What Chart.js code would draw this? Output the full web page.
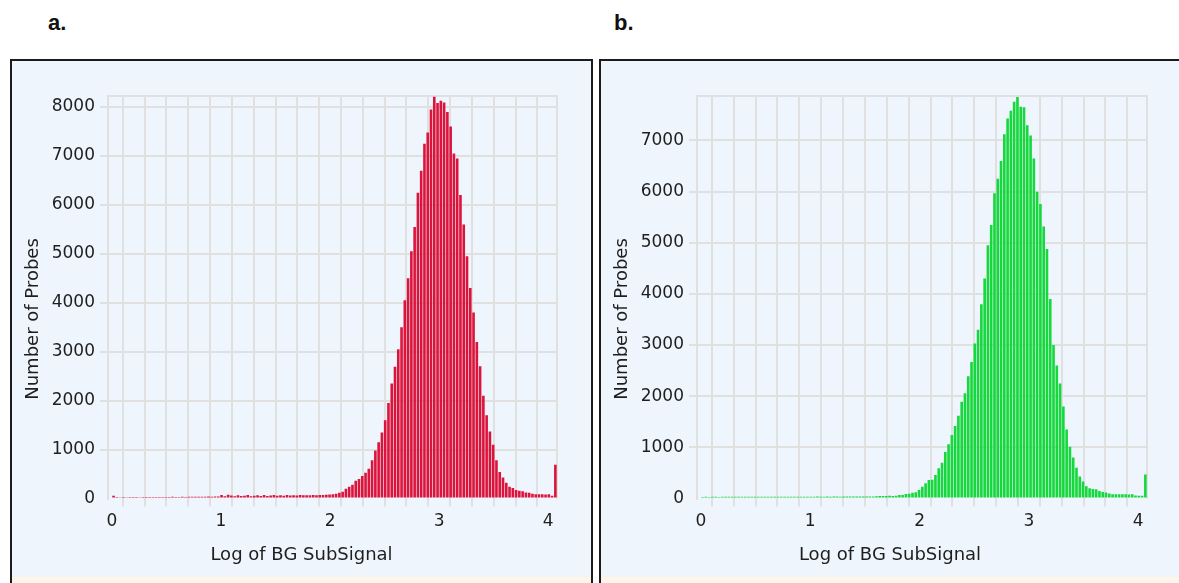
<!DOCTYPE html>
<html>
<head>
<meta charset="utf-8">
<script src="https://cdn.jsdelivr.net/npm/chart.js@4.4.1/dist/chart.umd.min.js"></script>
<style>
  body { margin: 0; background: #fff; width: 1179px; height: 583px; overflow: hidden; position: relative; font-family: Arial, "Liberation Sans", sans-serif; }
  .lbl { position: absolute; top: 12px; font-weight: bold; font-size: 22px; line-height: 1; color: #111; }
  .panel { position: absolute; top: 59px; height: 530px; border: 2px solid #1b1b1b; background: #eef5fd; }
  .panel .foot { position: absolute; left: 0; right: 0; top: 516px; bottom: 0; background: #fdf4ea; }
  .panel canvas { position: absolute; left: 0; top: 0; }
</style>
</head>
<body>
<div class="lbl" style="left:48px">a.</div>
<div class="lbl" style="left:614px">b.</div>

<div class="panel" style="left:10px; width:579px">
  <canvas id="chartA" width="579" height="516"></canvas>
  <div class="foot"></div>
</div>
<div class="panel" style="left:599px; width:580px">
  <canvas id="chartB" width="578" height="516"></canvas>
  <div class="foot"></div>
</div>

<script>
// histogram bins: 0.03 wide, from 0 up to 4.08 (last bin holds the overflow)
const binWidth = 0.03;
const binCount = 136;
const binCenters = Array.from({length: binCount}, (_, i) => +(binWidth * i + binWidth / 2).toFixed(3));

// a. red channel
const redCounts = [
  55, 30, 28, 30, 27, 30, 29, 31, 28, 30,
  32, 29, 31, 30, 33, 30, 32, 31, 34, 32,
  33, 35, 33, 36, 34, 37, 35, 38, 36, 39,
  38, 40, 42, 70, 48, 75, 62, 45, 68, 50,
  58, 72, 47, 55, 66, 50, 74, 52, 60, 70,
  55, 65, 58, 72, 60, 66, 62, 70, 64, 68,
  66, 70, 68, 72, 74, 78, 82, 86, 95, 120,
  140, 200, 240, 280, 365, 400, 460, 525, 610, 780,
  980, 1150, 1350, 1600, 1950, 2350, 2690, 3050, 3500, 4050,
  4500, 5050, 5550, 6250, 6700, 7250, 7480, 7950, 8210, 8080,
  8130, 8090, 7900, 7600, 7050, 6950, 6200, 5600, 4950, 4300,
  3800, 3200, 2700, 2100, 1700, 1370, 1100, 780, 540, 430,
  320, 240, 215, 175, 160, 150, 125, 115, 95, 88,
  85, 86, 84, 86, 55, 690
];

// b. green channel
const greenCounts = [
  30, 32, 31, 33, 32, 31, 33, 32, 34, 33,
  32, 34, 33, 32, 34, 33, 35, 33, 34, 32,
  34, 33, 35, 34, 33, 35, 34, 36, 35, 34,
  36, 35, 34, 36, 35, 37, 36, 35, 37, 36,
  38, 37, 36, 38, 37, 39, 38, 40, 39, 38,
  40, 41, 40, 42, 48, 50, 48, 52, 50, 55,
  66, 70, 88, 92, 113, 120, 165, 230, 300, 360,
  365, 460, 590, 700, 910, 1060, 1240, 1420, 1620, 1890,
  2060, 2390, 2670, 3030, 3300, 3800, 4300, 4950, 5350, 5970,
  6250, 6600, 7120, 7430, 7580, 7760, 7850, 7660, 7650, 7300,
  7100, 6650, 6000, 5760, 5320, 4880, 3900, 3000, 2600, 2250,
  1800, 1350, 1010, 800, 600, 430, 330, 240, 200, 185,
  180, 146, 125, 118, 100, 84, 82, 83, 81, 82,
  80, 82, 60, 55, 52, 470
];

const xGrid = [0, 0.2, 0.4, 0.6, 0.8, 1, 1.2, 1.4, 1.6, 1.8, 2, 2.2, 2.4, 2.6, 2.8, 3, 3.2, 3.4, 3.6, 3.8, 4];
const redYTicks = [0, 1000, 2000, 3000, 4000, 5000, 6000, 7000, 8000];
const greenYTicks = [0, 1000, 2000, 3000, 4000, 5000, 6000, 7000];

const xTitle = "Log of BG SubSignal";
const yTitle = "Number of Probes";

const gridColor = "#e0e0e0";
const textColor = "#1e1e1e";
const tickFont = { family: "DejaVu Sans", size: 17 };

// top/right frame of the plot + axis titles centred on the panel
const frame = {
  id: "frame",
  beforeDatasetsDraw(chart) {
    const { ctx, chartArea: a } = chart;
    ctx.save();
    ctx.strokeStyle = gridColor;
    ctx.lineWidth = 2;
    ctx.beginPath();
    ctx.moveTo(a.left, a.top);
    ctx.lineTo(a.right, a.top);
    ctx.lineTo(a.right, a.bottom);
    ctx.stroke();
    ctx.restore();
  },
  afterDraw(chart) {
    const { ctx } = chart;
    ctx.save();
    ctx.fillStyle = textColor;
    ctx.font = '18px "DejaVu Sans"';
    ctx.textAlign = "center";
    ctx.textBaseline = "middle";
    ctx.fillText(xTitle, chart.width / 2, 494);
    ctx.translate(21, chart.height / 2);
    ctx.rotate(-Math.PI / 2);
    ctx.fillText(yTitle, 0, 0);
    ctx.restore();
  }
};

function hideZero(c) {
  return c.tick && c.tick.value === 0 ? "rgba(0,0,0,0)" : gridColor;
}

function histogram(id, counts, color, yMax, yTicks, padRight) {
  return new Chart(document.getElementById(id), {
    type: "bar",
    data: {
      datasets: [{
        data: binCenters.map((x, i) => ({ x: x, y: counts[i] })),
        backgroundColor: color,
        barPercentage: 0.8,
        categoryPercentage: 1
      }]
    },
    options: {
      responsive: false,
      animation: false,
      layout: { padding: { top: 35, right: padRight, left: 0, bottom: 0 } },
      plugins: { legend: { display: false }, tooltip: { enabled: false } },
      scales: {
        x: {
          type: "linear",
          min: -0.036,
          max: 4.08,
          offset: false,
          afterBuildTicks: s => { s.ticks = xGrid.map(v => ({ value: v })); },
          afterFit: s => { s.height = 78.5; },
          grid: { color: hideZero, lineWidth: 2, tickLength: 8 },
          border: { display: false },
          ticks: {
            autoSkip: false, maxRotation: 0, padding: 5, color: textColor, font: tickFont,
            callback: v => Number.isInteger(v) ? String(v) : ""
          }
        },
        y: {
          min: 0,
          max: yMax,
          afterBuildTicks: s => { s.ticks = yTicks.map(v => ({ value: v })); },
          afterFit: s => { s.width = 96; },
          grid: { color: hideZero, lineWidth: 2, tickLength: 8 },
          border: { color: gridColor, width: 2 },
          ticks: { padding: 5, color: textColor, font: tickFont, callback: v => String(v) }
        }
      }
    },
    plugins: [frame]
  });
}

histogram("chartA", redCounts, "#dc143c", 8225, redYTicks, 34);
histogram("chartB", greenCounts, "#14d83c", 7870, greenYTicks, 32);
</script>
</body>
</html>
